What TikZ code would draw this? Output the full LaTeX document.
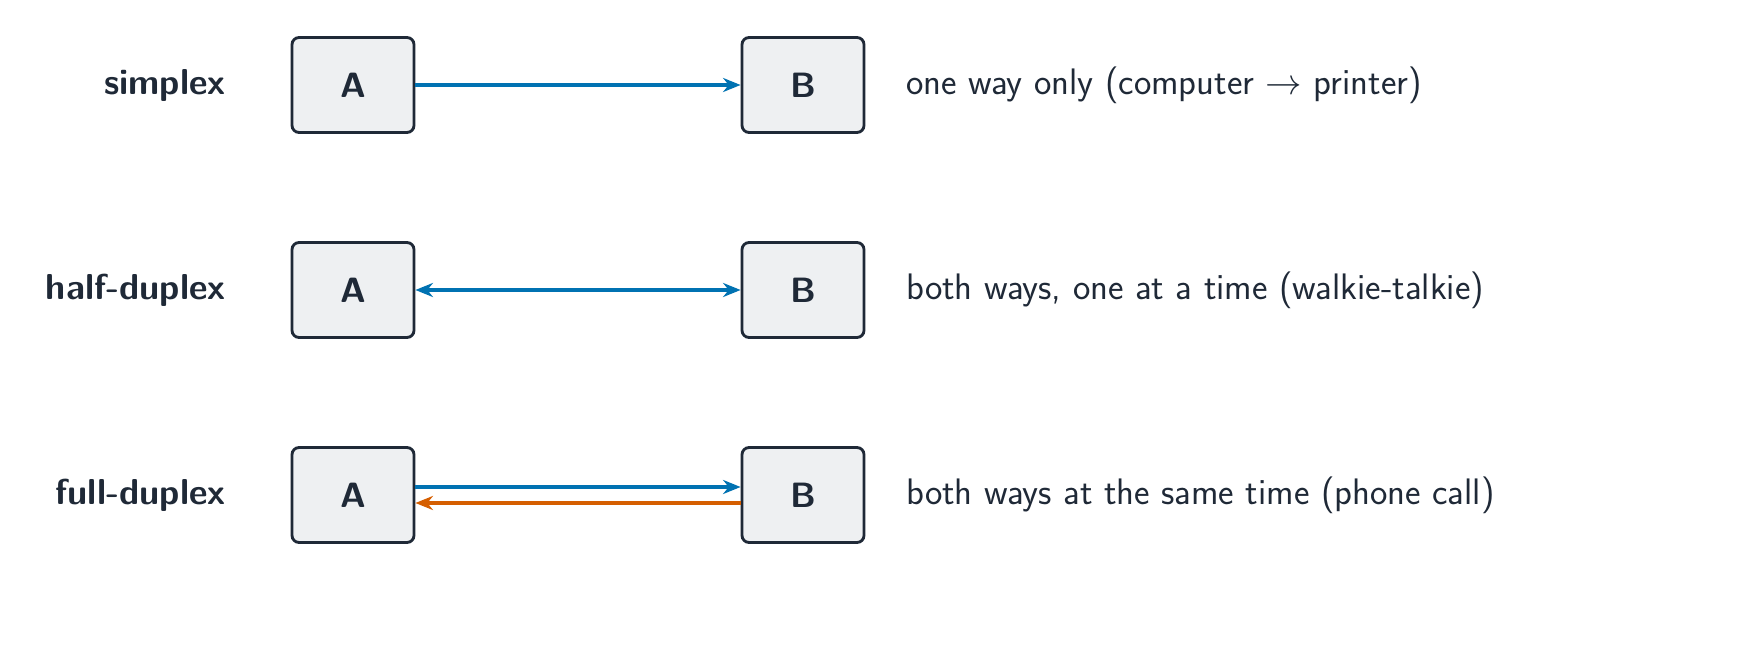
\documentclass[tikz,border=0pt]{standalone}
\usetikzlibrary{arrows.meta}
\renewcommand{\familydefault}{\sfdefault}
\definecolor{ink}{HTML}{1F2937}
\definecolor{boxfill}{HTML}{EEF0F2}
\definecolor{cblue}{HTML}{0072B2}
\definecolor{corange}{HTML}{D55E00}
\begin{document}
\begin{tikzpicture}[x=0.02cm,y=-0.02cm,
  box/.style={draw=ink,fill=boxfill,line width=1.6pt,rounded corners=4pt,minimum width=2.44cm,minimum height=1.9cm,font=\fontsize{20}{24}\selectfont\bfseries,text=ink},
  lab/.style={anchor=east,font=\fontsize{20.5}{24}\selectfont\bfseries,text=ink},
  desc/.style={anchor=west,font=\fontsize{21}{25}\selectfont,text=ink},
  arr/.style={line width=2pt,-{Stealth[length=10pt,width=8pt]}}]
\useasboundingbox (0,0) rectangle (1738,645);
\foreach \r/\y/\l/\d in {1/85/simplex/{one way only (computer $\rightarrow$ printer)},
  2/290/half-duplex/{both ways, one at a time (walkie-talkie)},
  3/495/full-duplex/{both ways at the same time (phone call)}}{
  \node[box] (a\r) at (353,\y) {A};
  \node[box] (b\r) at (803,\y) {B};
  \node[lab] (l\r) at (232,\y) {\l};
  \node[desc] (d\r) at (900,\y) {\d};
}
\draw[arr,cblue] (a1) -- (b1);
\draw[line width=2pt,cblue,{Stealth[length=10pt,width=8pt]}-{Stealth[length=10pt,width=8pt]}] (a2) -- (b2);
\draw[arr,cblue] ([yshift=0.16cm]a3.east) -- ([yshift=0.16cm]b3.west);
\draw[arr,corange] ([yshift=-0.16cm]b3.west) -- ([yshift=-0.16cm]a3.east);
\end{tikzpicture}
\end{document}
